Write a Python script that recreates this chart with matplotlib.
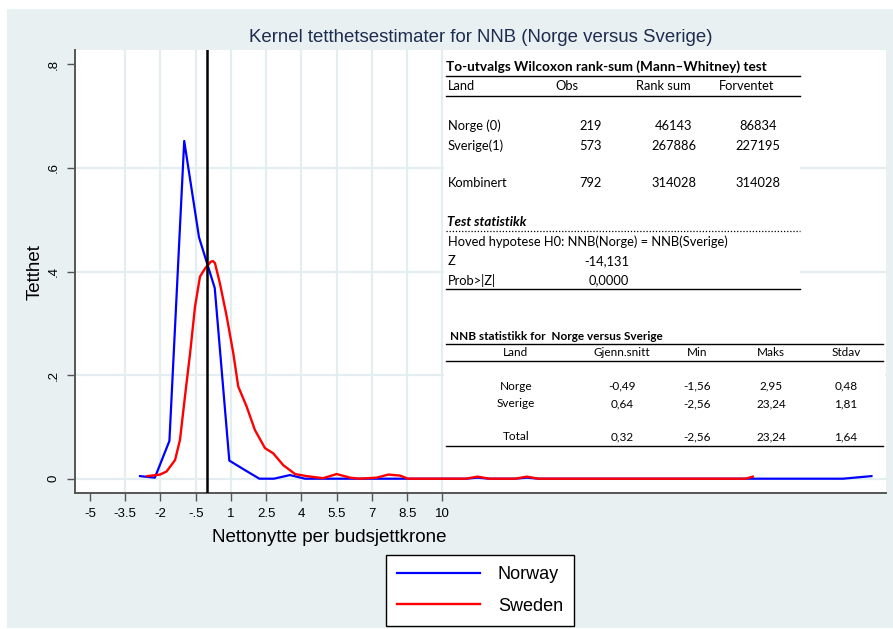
import numpy as np
import matplotlib.pyplot as plt
from matplotlib.patches import Rectangle
from matplotlib.lines import Line2D

# kernel density curves
norway_x = [-2.87, -2.24, -1.62, -0.99, -0.36, 0.31, 0.93, 1.58, 2.21, 2.83, 3.51, 4.15,
            11.0, 11.5, 12.0, 13.1, 13.6, 14.1, 27.06, 28.27]
norway_y = [0.005, 0.002, 0.073, 0.652, 0.466, 0.368, 0.035, 0.017, 0.0, 0.0, 0.007, 0.0,
            0.0, 0.002, 0.0, 0.0, 0.002, 0.0, 0.0, 0.005]
sweden_x = [-2.56, -2.02, -1.74, -1.38, -1.17, -0.96, -0.74, -0.53, -0.32, -0.10, 0.05, 0.14,
            0.24, 0.32, 0.53, 0.82, 1.10, 1.31, 1.67, 2.02, 2.45, 2.80, 3.23, 3.73, 4.22, 4.92,
            5.5, 6.07, 6.49, 7.2, 7.7, 8.2, 8.54, 11.0, 11.5, 12.0, 13.1, 13.6, 14.1, 22.9, 23.22]
sweden_y = [0.005, 0.008, 0.014, 0.036, 0.075, 0.158, 0.242, 0.332, 0.39, 0.406, 0.414, 0.419,
            0.420, 0.416, 0.377, 0.313, 0.242, 0.178, 0.139, 0.094, 0.059, 0.049, 0.026, 0.009,
            0.005, 0.001, 0.009, 0.002, 0.0, 0.002, 0.008, 0.006, 0.0, 0.0, 0.004, 0.0, 0.0,
            0.004, 0.0, 0.0, 0.004]

xticks = [-5, -3.5, -2, -0.5, 1, 2.5, 4, 5.5, 7, 8.5, 10]
xtick_labels = ['-5', '-3.5', '-2', '-.5', '1', '2.5', '4', '5.5', '7', '8.5', '10']
yticks = [0, 0.2, 0.4, 0.6, 0.8]
ytick_labels = ['0', '.2', '.4', '.6', '.8']

# Wilcoxon table
wil_head = ['Land', 'Obs', 'Rank sum', 'Forventet']
wil_land = ['Norge (0)', 'Sverige(1)', 'Kombinert']
wil_obs = ['219', '573', '792']
wil_rank = ['46143', '267886', '314028']
wil_exp = ['86834', '227195', '314028']
z_value = '-14,131'
p_value = '0,0000'

# descriptive table
nnb_head = ['Land', 'Gjenn.snitt', 'Min', 'Maks', 'Stdav']
nnb_rows = [['Norge', '-0,49', '-1,56', '2,95', '0,48'],
            ['Sverige', '0,64', '-2,56', '23,24', '1,81'],
            ['Total', '0,32', '-2,56', '23,24', '1,64']]

W, H = 893, 629
bg = '#e8f0f2'
gridc = '#e4edf0'
plt.rcParams['font.family'] = ['Liberation Sans', 'DejaVu Sans']

fig = plt.figure(figsize=(W / 100, H / 100), dpi=100, facecolor='white')
fig.add_artist(Rectangle((7 / W, 1 - 628 / H), (W - 7) / W, (628 - 9) / H,
                         transform=fig.transFigure, facecolor=bg, edgecolor='none', zorder=-5))

ax = fig.add_axes([75 / W, 1 - 493 / H, (886 - 75) / W, (493 - 50) / H])
ax.set_facecolor('white')
ax.set_xlim(-5.64, 28.89)
ax.set_ylim(-0.0276, 0.8276)

for gx in xticks[1:]:
    ax.axvline(gx, color=gridc, lw=1.6, zorder=0)
for gy in yticks[:-1]:
    ax.axhline(gy, color=gridc, lw=1.6, zorder=0)

ax.plot(norway_x, norway_y, color='#0000ff', lw=1.6, label='Norway', zorder=3)
ax.plot(sweden_x, sweden_y, color='#ff0000', lw=1.7, label='Sweden', zorder=3)
ax.axvline(0, color='black', lw=1.8, zorder=4)

ax.set_xticks(xticks)
ax.set_xticklabels(xtick_labels, fontsize=9.5)
ax.set_yticks(yticks)
ax.set_yticklabels(ytick_labels, fontsize=9.5, rotation=90, va='center')
ax.tick_params(length=6, width=1, color='#555555', pad=5)
for s in ['top', 'right']:
    ax.spines[s].set_visible(False)
for s in ['left', 'bottom']:
    ax.spines[s].set_color('#555555')
    ax.spines[s].set_linewidth(1.4)

fig.text(329 / W, 1 - 537 / H, 'Nettonytte per budsjettkrone', fontsize=13.5,
         ha='center', va='center')
fig.text(35 / W, 1 - 272 / H, 'Tetthet', fontsize=13.5, rotation=90,
         ha='center', va='center')
fig.text(481 / W, 1 - 37 / H, 'Kernel tetthetsestimater for NNB (Norge versus Sverige)',
         fontsize=13.4, color='#1e2c4e', ha='center', va='center')

leg = fig.legend(loc='center', bbox_to_anchor=(480 / W, 1 - 590.5 / H), fontsize=13,
                 frameon=True, fancybox=False, edgecolor='black', framealpha=1,
                 handlelength=4.6, labelspacing=0.8, borderpad=0.6, handletextpad=1.0)
leg.get_frame().set_linewidth(1.0)


def tx(px, py, s, ha='left', **kw):
    fig.text(px / W, 1 - py / H, s, ha=ha, va='center', family=['Lato', 'DejaVu Sans'],
             fontsize=kw.pop('fontsize', 9.3), zorder=6, **kw)


def hline(x0, x1, py, **kw):
    fig.add_artist(Line2D([x0 / W, x1 / W], [1 - py / H, 1 - py / H], transform=fig.transFigure,
                          color='black', lw=kw.pop('lw', 1.0), zorder=6, **kw))


# white boxes behind the tables
fig.add_artist(Rectangle((444 / W, 1 - 292 / H), (800 - 444) / W, (292 - 55) / H,
                         transform=fig.transFigure, facecolor='white', edgecolor='none', zorder=5))
fig.add_artist(Rectangle((444 / W, 1 - 452 / H), (885 - 444) / W, (452 - 325) / H,
                         transform=fig.transFigure, facecolor='white', edgecolor='none', zorder=5))

# Wilcoxon table
tx(446, 67, 'To-utvalgs Wilcoxon rank-sum (Mann\u2013Whitney) test', weight='bold', fontsize=9.8)
hline(446, 800, 76)
tx(448, 86, wil_head[0])
tx(555, 86, wil_head[1])
tx(663, 86, wil_head[2], ha='center')
tx(747, 86, wil_head[3], ha='center')
hline(446, 800, 96)
for i, py in enumerate([126, 146, 183]):
    tx(448, py, wil_land[i])
    tx(602, py, wil_obs[i], ha='right')
    tx(674, py, wil_rank[i], ha='center')
    tx(758, py, wil_exp[i], ha='center')
tx(447, 222, 'Test statistikk', weight='bold', style='italic', fontsize=9.6)
hline(446, 800, 231, ls=(0, (1, 1.5)), lw=0.9)
tx(448, 242, 'Hoved hypotese H0: NNB(Norge) = NNB(Sverige)')
tx(448, 261, 'Z')
tx(629, 261, z_value, ha='right')
tx(448, 280, 'Prob>|Z|')
tx(629, 280, p_value, ha='right')
hline(446, 800, 289)

# descriptive table
tx(450, 336, 'NNB statistikk for  Norge versus Sverige', weight='bold', fontsize=8.5)
hline(446, 883, 343.5)
col_x = [516, 622, 697, 771, 846]
for j, h in enumerate(nnb_head):
    tx(col_x[j], 352.5, h, ha='center', fontsize=8.5)
hline(446, 883, 361)
for i, py in enumerate([386, 403.5, 437]):
    for j, v in enumerate(nnb_rows[i]):
        tx(col_x[j], py, v, ha='center', fontsize=8.5)
hline(446, 883, 445.5)

fig.savefig('out.png', dpi=100, facecolor=fig.get_facecolor())
